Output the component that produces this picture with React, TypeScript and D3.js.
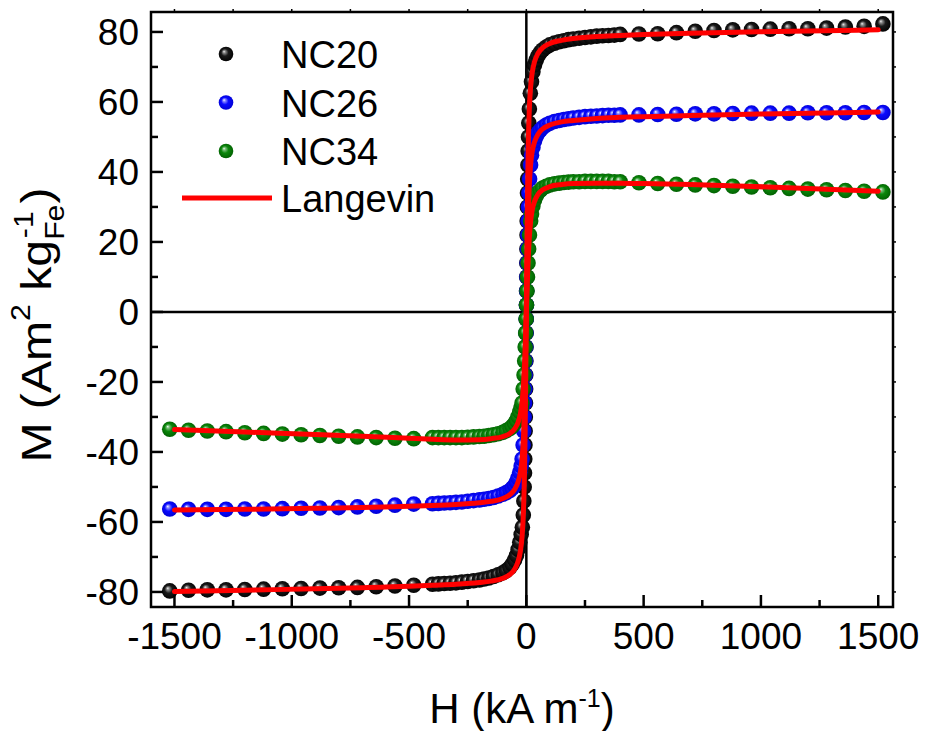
import React from 'react';
import * as d3 from 'd3';

const W = 925;
const HGT = 731;
const PLOT = { left: 151, right: 893, top: 12, bottom: 607 };

const X_TICKS = [-1500, -1000, -500, 0, 500, 1000, 1500];
const X_MINOR = [-1250, -750, -250, 250, 750, 1250];
const Y_TICKS = [-80, -60, -40, -20, 0, 20, 40, 60, 80];
const Y_MINOR = [-70, -50, -30, -10, 10, 30, 50, 70];

// sparse high-field points (shared field values)
const SPARSE_H_NEG = [-1520, -1440, -1360, -1280, -1200, -1120, -1040, -960, -880, -800, -720, -640, -560, -480];
const SPARSE_H_POS = [480, 560, 640, 720, 800, 880, 960, 1040, 1120, 1200, 1280, 1360, 1440, 1520];

const NC20_NEG = [-79.7, -79.5, -79.4, -79.4, -79.3, -79.2, -79.1, -79.0, -78.9, -78.8, -78.7, -78.5, -78.3, -78.1];
const NC20_POS = [79.4, 79.5, 79.8, 80.2, 80.4, 80.6, 80.7, 80.8, 80.9, 80.9, 81.1, 81.4, 81.6, 82.3];
const NC26_NEG = [-56.3, -56.4, -56.4, -56.4, -56.3, -56.3, -56.2, -56.1, -56.0, -55.9, -55.7, -55.5, -55.2, -54.9];
const NC26_POS = [56.3, 56.4, 56.5, 56.6, 56.6, 56.7, 56.8, 56.8, 56.8, 56.9, 56.9, 56.9, 57.0, 57.0];
const NC34_NEG = [-33.5, -33.8, -34.0, -34.2, -34.5, -34.7, -34.9, -35.1, -35.3, -35.5, -35.7, -35.9, -36.1, -36.2];
const NC34_POS = [36.9, 36.7, 36.5, 36.3, 36.1, 35.9, 35.7, 35.5, 35.3, 35.1, 34.9, 34.7, 34.5, 34.3];

// dense low-field loop points [H, M]
const NC20_LOOP: [number, number][] = [
  [-400, -77.8], [-375, -77.7], [-350, -77.6], [-325, -77.5], [-300, -77.4], [-275, -77.2], [-250, -77.0], [-225, -76.8],
  [-200, -76.6], [-180, -76.3], [-160, -76.0], [-140, -75.6], [-120, -75.1], [-100, -74.5], [-85, -73.9], [-70, -73.0],
  [-60, -72.1], [-50, -70.9], [-42, -69.6], [-35, -67.9], [-28, -65.8], [-22, -63.6], [-17, -61.5],
  [-12.9, -58], [-10.6, -54], [-9.1, -50], [-7.8, -46], [-6.7, -42], [-5.8, -38], [-5.0, -34], [-4.3, -30], [-3.6, -26],
  [-3.0, -22], [-2.4, -18], [-1.85, -14], [-1.3, -10], [-0.78, -6], [-0.26, -2], [0.26, 2], [0.78, 6], [1.3, 10],
  [1.85, 14], [2.4, 18], [3.0, 22], [3.6, 26], [4.3, 30], [5.0, 34], [5.8, 38], [6.7, 42], [7.8, 46], [9.1, 50],
  [10.6, 54], [12.9, 58],
  [17, 62.5], [22, 65.8], [28, 68.6], [35, 70.6], [42, 72.0], [50, 73.2], [60, 74.2], [70, 74.9], [85, 75.7], [100, 76.3],
  [120, 76.8], [140, 77.2], [160, 77.5], [180, 77.8], [200, 78.0], [225, 78.2], [250, 78.4], [275, 78.6], [300, 78.8],
  [325, 78.9], [350, 79.0], [375, 79.1], [400, 79.3],
];
const NC26_LOOP: [number, number][] = [
  [-400, -54.8], [-375, -54.7], [-350, -54.6], [-325, -54.5], [-300, -54.4], [-275, -54.3], [-250, -54.1], [-225, -53.9],
  [-200, -53.7], [-180, -53.5], [-160, -53.3], [-140, -53.0], [-120, -52.6], [-100, -52.1], [-85, -51.6], [-70, -51.0],
  [-60, -50.4], [-50, -49.6], [-42, -48.6], [-35, -47.4], [-28, -45.8], [-22, -44.0],
  [-18.1, -42], [-13.8, -38], [-11.1, -34], [-9.0, -30], [-7.2, -26], [-6.0, -22], [-4.7, -18], [-3.5, -14], [-2.5, -10],
  [-1.5, -6], [-0.5, -2], [0.5, 2], [1.5, 6], [2.5, 10], [3.5, 14], [4.7, 18], [6.0, 22], [7.2, 26], [9.0, 30],
  [11.1, 34], [13.8, 38], [18.1, 42],
  [22, 44.8], [28, 47.0], [35, 48.9], [42, 50.1], [50, 51.2], [60, 52.0], [70, 52.7], [85, 53.4], [100, 53.9], [120, 54.4],
  [140, 54.7], [160, 55.0], [180, 55.2], [200, 55.4], [225, 55.6], [250, 55.8], [275, 55.9], [300, 56.0], [325, 56.1],
  [350, 56.2], [375, 56.2], [400, 56.3],
];
const NC34_LOOP: [number, number][] = [
  [-400, -35.9], [-375, -35.9], [-350, -35.9], [-325, -35.9], [-300, -35.9], [-275, -35.9], [-250, -35.8], [-225, -35.7],
  [-200, -35.6], [-180, -35.5], [-160, -35.3], [-140, -35.1], [-120, -34.8], [-100, -34.4], [-85, -33.9], [-70, -33.3],
  [-60, -32.7], [-50, -31.9], [-42, -31.0], [-35, -29.9], [-28, -28.5], [-22, -27.3],
  [-18.3, -26], [-13.4, -22], [-9.8, -18], [-7.2, -14], [-4.9, -10], [-2.9, -6], [-0.9, -2], [0.9, 2], [2.9, 6],
  [4.9, 10], [7.2, 14], [9.8, 18], [13.4, 22], [18.3, 26],
  [22, 28.0], [28, 30.3], [35, 32.0], [42, 33.2], [50, 34.1], [60, 34.8], [70, 35.4], [85, 35.9], [100, 36.3], [120, 36.6],
  [140, 36.8], [160, 37.0], [180, 37.1], [200, 37.2], [225, 37.2], [250, 37.3], [275, 37.3], [300, 37.3], [325, 37.3],
  [350, 37.3], [375, 37.2], [400, 37.2],
];

// Langevin fit curves
const FIT_H = [-1500, -1200, -900, -700, -500, -400, -300, -200, -150, -100, -70, -50, -35, -25, -18, -12, -8, -5, -2.5, 0,
  2.5, 5, 8, 12, 18, 25, 35, 50, 70, 100, 150, 200, 300, 400, 500, 700, 900, 1200, 1500];
const FIT_NC20 = [-79.9, -79.5, -79.1, -78.8, -78.4, -78.1, -77.8, -77.3, -76.9, -76.1, -75.0, -73.5, -71.2, -68.2, -64.0,
  -56.6, -46.5, -33.9, -18.5, 0, 18.5, 33.9, 46.5, 56.7, 64.1, 68.4, 71.5, 73.9, 75.5, 76.7, 77.6, 78.1, 78.7, 79.0, 79.25,
  79.6, 79.9, 80.3, 80.6];
const FIT_NC26 = [-56.6, -56.4, -56.1, -55.9, -55.5, -55.3, -55.0, -54.5, -54.1, -53.3, -52.2, -50.7, -48.5, -45.7, -41.8,
  -35.3, -27.5, -19.0, -10.1, 0, 10.1, 19.0, 27.5, 35.3, 41.9, 45.8, 48.6, 50.8, 52.3, 53.4, 54.3, 54.7, 55.3, 55.6, 55.8,
  56.1, 56.4, 56.8, 57.1];
const FIT_NC34 = [-33.6, -34.3, -35.0, -35.5, -36.1, -36.4, -36.6, -36.5, -36.2, -35.6, -34.7, -33.4, -31.5, -29.0, -25.6,
  -20.6, -15.2, -10.1, -5.3, 0, 5.3, 10.1, 15.2, 20.6, 25.7, 29.1, 31.6, 33.6, 34.9, 35.8, 36.4, 36.7, 36.8, 36.8, 36.7,
  36.4, 36.0, 35.3, 34.5];

const SERIES_NAMES = ['NC20', 'NC26', 'NC34'];
const FONT = '"Liberation Sans", Arial, Helvetica, sans-serif';

const GRADS = [
  { id: 'gBlack', stops: ['#f2f2f2', '#8c8c8c', '#1a1a1a', '#000000'] },
  { id: 'gBlue', stops: ['#ffffff', '#8c8cff', '#0a0aff', '#0000d0'] },
  { id: 'gGreen', stops: ['#f4fff4', '#7cbf7c', '#0b870b', '#005c00'] },
];

export default function App() {
  const x = d3.scaleLinear().domain([-1600, 1563]).range([PLOT.left, PLOT.right]);
  const y = d3.scaleLinear().domain([-84.3, 85.7]).range([PLOT.bottom, PLOT.top]);

  const series = [
    { neg: NC20_NEG, pos: NC20_POS, loop: NC20_LOOP, fit: FIT_NC20, grad: 'gBlack' },
    { neg: NC26_NEG, pos: NC26_POS, loop: NC26_LOOP, fit: FIT_NC26, grad: 'gBlue' },
    { neg: NC34_NEG, pos: NC34_POS, loop: NC34_LOOP, fit: FIT_NC34, grad: 'gGreen' },
  ];

  const line = d3.line<[number, number]>()
    .x((d) => x(d[0]))
    .y((d) => y(d[1]))
    .curve(d3.curveMonotoneX);

  const R = 7.8;
  const tickFs = 37;
  const axisW = 2.5;

  return (
    <svg width={W} height={HGT} style={{ position: 'absolute', left: 0, top: 0, background: '#fff' }} fontFamily={FONT}>
      <defs>
        {GRADS.map((g) => (
          <radialGradient key={g.id} id={g.id} cx="0.5" cy="0.5" r="0.55" fx="0.36" fy="0.32">
            <stop offset="0" stopColor={g.stops[0]} />
            <stop offset="0.16" stopColor={g.stops[1]} />
            <stop offset="0.45" stopColor={g.stops[2]} />
            <stop offset="1" stopColor={g.stops[3]} />
          </radialGradient>
        ))}
        <clipPath id="plotClip">
          <rect x={PLOT.left} y={PLOT.top} width={PLOT.right - PLOT.left} height={PLOT.bottom - PLOT.top} />
        </clipPath>
      </defs>

      {/* zero lines */}
      <line x1={PLOT.left} x2={PLOT.right} y1={y(0)} y2={y(0)} stroke="#000" strokeWidth={2.5} />
      <line x1={x(0)} x2={x(0)} y1={PLOT.top} y2={PLOT.bottom} stroke="#000" strokeWidth={2.5} />

      {/* markers */}
      <g clipPath="url(#plotClip)">
        {series.map((s, si) => {
          const pts: [number, number][] = [
            ...SPARSE_H_NEG.map((h, i) => [h, s.neg[i]] as [number, number]),
            ...s.loop,
            ...SPARSE_H_POS.map((h, i) => [h, s.pos[i]] as [number, number]),
          ];
          return (
            <g key={si}>
              {pts.map((p, i) => (
                <circle key={i} cx={x(p[0])} cy={y(p[1])} r={R} fill={`url(#${s.grad})`} />
              ))}
            </g>
          );
        })}
        {series.map((s, si) => (
          <path key={'f' + si} d={line(FIT_H.map((h, i) => [h, s.fit[i]] as [number, number])) || ''}
            fill="none" stroke="#ff0000" strokeWidth={5} strokeLinejoin="round" strokeLinecap="round" />
        ))}
      </g>

      {/* frame */}
      <rect x={PLOT.left} y={PLOT.top} width={PLOT.right - PLOT.left} height={PLOT.bottom - PLOT.top}
        fill="none" stroke="#000" strokeWidth={axisW} />

      {/* x ticks */}
      {X_TICKS.map((t) => (
        <g key={'xt' + t}>
          <line x1={x(t)} x2={x(t)} y1={PLOT.bottom} y2={PLOT.bottom - 12} stroke="#000" strokeWidth={2.5} />
          <line x1={x(t)} x2={x(t)} y1={PLOT.top} y2={PLOT.top - 3} stroke="#000" strokeWidth={1.5} />
          <text x={x(t)} y={649} textAnchor="middle" fontSize={tickFs}>{String(t)}</text>
        </g>
      ))}
      {X_MINOR.map((t) => (
        <g key={'xm' + t}>
          <line x1={x(t)} x2={x(t)} y1={PLOT.bottom} y2={PLOT.bottom - 7} stroke="#000" strokeWidth={2.5} />
          <line x1={x(t)} x2={x(t)} y1={PLOT.top} y2={PLOT.top - 3} stroke="#000" strokeWidth={1.5} />
        </g>
      ))}

      {/* y ticks */}
      {Y_TICKS.map((t) => (
        <g key={'yt' + t}>
          <line x1={PLOT.left} x2={PLOT.left + 12} y1={y(t)} y2={y(t)} stroke="#000" strokeWidth={2.5} />
          <line x1={PLOT.right} x2={PLOT.right + 3} y1={y(t)} y2={y(t)} stroke="#000" strokeWidth={1.5} />
          <text x={139} y={y(t) + 13} textAnchor="end" fontSize={tickFs}>{String(t)}</text>
        </g>
      ))}
      {Y_MINOR.map((t) => (
        <g key={'ym' + t}>
          <line x1={PLOT.left} x2={PLOT.left + 7} y1={y(t)} y2={y(t)} stroke="#000" strokeWidth={2.5} />
          <line x1={PLOT.right} x2={PLOT.right + 3} y1={y(t)} y2={y(t)} stroke="#000" strokeWidth={1.5} />
        </g>
      ))}

      {/* axis titles */}
      <text x={522} y={723} textAnchor="middle" fontSize={42}>
        H (kA m<tspan dy={-16} fontSize={25}>-1</tspan><tspan dy={16}>)</tspan>
      </text>
      <text transform="translate(51,325) rotate(-90) scale(1.12,1)" textAnchor="middle" fontSize={43}>
        M (Am<tspan dy={-21} fontSize={27}>2</tspan><tspan dy={21}> kg</tspan>
        <tspan dy={13} fontSize={27}>Fe</tspan>
        <tspan dx={-30} dy={-31} fontSize={27}>-1</tspan>
        <tspan dx={7} dy={18}>)</tspan>
      </text>

      {/* legend */}
      {SERIES_NAMES.map((n, i) => (
        <g key={n}>
          <circle cx={226} cy={54 + i * 48.5} r={7.3} fill={`url(#${GRADS[i].id})`} />
          <text x={281} y={54 + i * 48.5 + 14} fontSize={38}>{n}</text>
        </g>
      ))}
      <line x1={182} x2={272} y1={198} y2={198} stroke="#ff0000" strokeWidth={5} />
      <text x={281} y={212} fontSize={38}>Langevin</text>
    </svg>
  );
}
